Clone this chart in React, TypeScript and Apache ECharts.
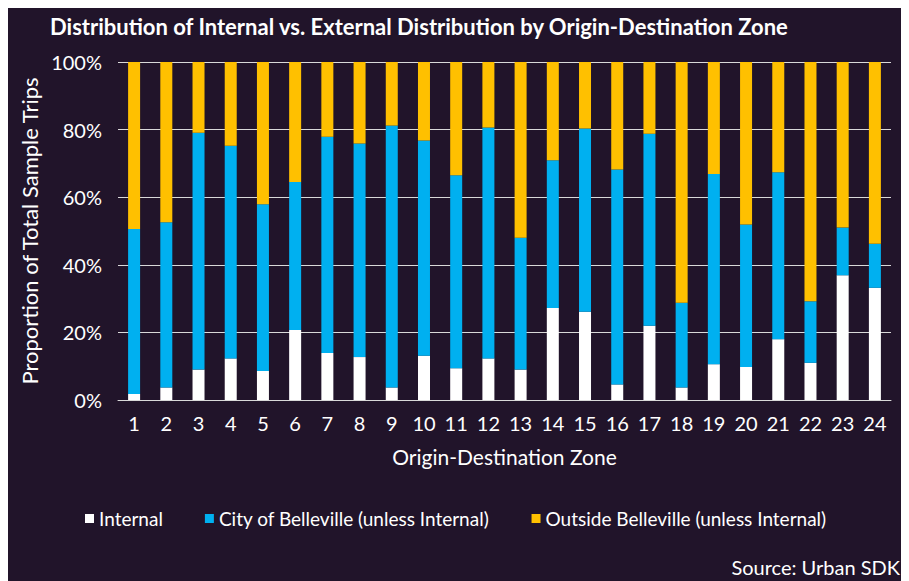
import React, { useEffect, useRef } from "react";
import * as echarts from "echarts";

const zones = ["1","2","3","4","5","6","7","8","9","10","11","12","13","14","15","16","17","18","19","20","21","22","23","24"];
const internal = [1.8, 3.7, 9.0, 12.3, 8.6, 20.7, 13.9, 12.7, 3.7, 13.1, 9.4, 12.3, 9.0, 27.2, 26.1, 4.6, 22.0, 3.7, 10.6, 9.8, 18.0, 11.0, 36.9, 33.2];
const cityOfBelleville = [48.8, 48.9, 70.1, 62.9, 49.3, 43.8, 64.0, 63.2, 77.5, 63.7, 57.1, 68.3, 39.0, 43.7, 54.2, 63.6, 56.8, 25.1, 56.3, 42.1, 49.4, 18.2, 14.1, 13.0];
const outsideBelleville = [49.4, 47.4, 20.9, 24.8, 42.1, 35.5, 22.1, 24.1, 18.8, 23.2, 33.5, 19.4, 52.0, 29.1, 19.7, 31.8, 21.2, 71.2, 33.1, 48.1, 32.6, 70.8, 49.0, 53.8];
const yTicks = [0, 20, 40, 60, 80, 100];

const FONT = "Lato, 'Noto Sans', sans-serif";
const TXT = "#ffffff";

export default function App() {
  const ref = useRef<HTMLDivElement>(null);
  useEffect(() => {
    if (!ref.current) return;
    const chart = echarts.init(ref.current, undefined, { renderer: "svg" });
    const mk = (name: string, data: number[], color: string) => ({
      name,
      type: "bar",
      stack: "total",
      data,
      barWidth: 12,
      itemStyle: { color },
      emphasis: { disabled: true },
    });
    chart.setOption({
      animation: false,
      backgroundColor: "#21142a",
      textStyle: { fontFamily: FONT },
      title: {
        text: "Distribution of Internal vs. External Distribution by Origin-Destination Zone",
        left: 37,
        top: 2,
        textStyle: { color: TXT, fontSize: 22, fontWeight: "bold", fontFamily: FONT },
      },
      grid: { left: 110, right: 18, top: 54, bottom: 181 },
      legend: {
        left: 72,
        top: 496,
        itemWidth: 9,
        itemHeight: 9,
        itemGap: 42,
        icon: "rect",
        textStyle: { color: TXT, fontSize: 19, fontFamily: FONT },
        data: ["Internal", "City of Belleville (unless Internal)", "Outside Belleville (unless Internal)"],
      },
      xAxis: {
        type: "category",
        data: zones,
        name: "Origin-Destination Zone",
        nameLocation: "middle",
        nameGap: 46,
        nameTextStyle: { color: TXT, fontSize: 21, fontFamily: FONT },
        axisLine: { lineStyle: { color: "#d9d9d9", width: 1 } },
        axisTick: { show: false },
        axisLabel: { color: TXT, fontSize: 20, margin: 13, fontFamily: FONT },
      },
      yAxis: {
        type: "value",
        min: yTicks[0],
        max: yTicks[yTicks.length - 1],
        interval: 20,
        name: "Proportion of Total Sample Trips",
        nameLocation: "middle",
        nameGap: 74,
        nameTextStyle: { color: TXT, fontSize: 22, fontFamily: FONT },
        axisLine: { show: false },
        axisTick: { show: false },
        splitLine: { lineStyle: { color: "#d9d9d9", width: 1 } },
        axisLabel: { color: TXT, fontSize: 20, margin: 16, fontFamily: FONT, formatter: "{value}%" },
      },
      graphic: [
        {
          type: "text",
          x: 892,
          y: 559,
          style: {
            text: "Source: Urban SDK",
            fill: TXT,
            fontSize: 20,
            fontFamily: FONT,
            align: "right",
            verticalAlign: "middle",
          },
        },
      ],
      series: [
        mk("Internal", internal, "#ffffff"),
        mk("City of Belleville (unless Internal)", cityOfBelleville, "#00b0f0"),
        mk("Outside Belleville (unless Internal)", outsideBelleville, "#ffc000"),
      ],
    });
    return () => chart.dispose();
  }, []);
  return <div ref={ref} style={{ width: 901, height: 573 }} />;
}
